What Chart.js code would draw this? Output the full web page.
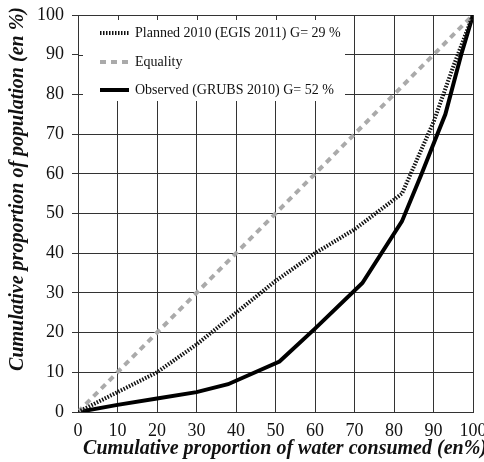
<!DOCTYPE html>
<html>
<head>
<meta charset="utf-8">
<script src="https://cdn.jsdelivr.net/npm/chart.js@4"></script>
<style>
  html, body { margin: 0; padding: 0; background: #fff; }
  #wrap { width: 484px; height: 462px; }
</style>
</head>
<body>
<div id="wrap"><canvas id="lorenz"></canvas></div>
<script>
// values (x = % of water consumed, y = % of population)
var plannedX  = [0, 10, 20, 30, 40, 50, 60, 70, 82, 90, 95, 100];
var plannedY  = [0, 5, 10, 17, 25, 33, 40, 46, 55, 73, 87, 100];
var observedX = [0, 10, 20, 30, 38, 51, 60, 72, 82, 87, 91, 93, 97, 100];
var observedY = [0, 1.8, 3.4, 5, 7, 12.7, 21, 32.5, 48, 60, 70, 75, 90, 100];
var equalityX = [0, 100];
var equalityY = [0, 100];
var tickValues = [0, 10, 20, 30, 40, 50, 60, 70, 80, 90, 100];

var labels = ['Planned 2010 (EGIS 2011) G= 29 %', 'Equality', 'Observed (GRUBS 2010) G= 52 %'];
var xTitle = 'Cumulative proportion of water consumed (en%)';
var yTitle = 'Cumulative proportion of population (en %)';

function toPoints(xs, ys) {
    return xs.map(function (x, i) { return { x: x, y: ys[i] }; });
}

var serif = 'Liberation Serif';

// white legend box drawn inside the plot, over the grid
var legendBox = {
    id: 'legendBox',
    beforeDatasetsDraw: function (chart) {
        var ctx = chart.ctx;
        var a = chart.chartArea;
        var xs = chart.scales.x, ys = chart.scales.y;
        var right = 345, bottom = 101;
        ctx.save();
        ctx.fillStyle = '#fff';
        ctx.fillRect(a.left + 1, a.top + 1, right - a.left - 1, bottom - a.top - 1);

        // little inner ticks left visible on the frame
        ctx.strokeStyle = '#333';
        ctx.lineWidth = 1;
        ctx.beginPath();
        tickValues.forEach(function (v) {
            var px = Math.round(xs.getPixelForValue(v)) + 0.5;
            if (v > 0 && px < right) {
                ctx.moveTo(px, a.top);
                ctx.lineTo(px, a.top + 5);
            }
            var py = Math.round(ys.getPixelForValue(v)) + 0.5;
            if (v < 100 && py < bottom) {
                ctx.moveTo(a.left, py);
                ctx.lineTo(a.left + 5, py);
            }
        });
        ctx.stroke();

        // legend entries
        var rows = [33, 62, 90];
        chart.data.datasets.forEach(function (ds, i) {
            ctx.beginPath();
            ctx.strokeStyle = ds.borderColor;
            ctx.lineWidth = ds.borderWidth;
            ctx.setLineDash(ds.borderDash || []);
            ctx.moveTo(100, rows[i]);
            ctx.lineTo(129, rows[i]);
            ctx.stroke();
            ctx.setLineDash([]);
            ctx.fillStyle = '#111';
            ctx.font = '14px "' + serif + '"';
            ctx.textBaseline = 'middle';
            ctx.fillText(ds.label, 135, rows[i]);
        });
        ctx.restore();
    }
};

// axis titles, placed where the original has them
var axisTitles = {
    id: 'axisTitles',
    afterDraw: function (chart) {
        var ctx = chart.ctx;
        ctx.save();
        ctx.fillStyle = '#111';
        ctx.font = 'italic bold 20px "' + serif + '"';
        ctx.textAlign = 'center';
        ctx.textBaseline = 'middle';
        ctx.fillText(xTitle, 285, 449);
        ctx.translate(18, 189);
        ctx.rotate(-Math.PI / 2);
        ctx.fillText(yTitle, 0, 0);
        ctx.restore();
    }
};

var ctx = document.getElementById('lorenz');
var chart = new Chart(ctx, {
    type: 'scatter',
    data: {
        datasets: [{
            label: labels[0],
            data: toPoints(plannedX, plannedY),
            showLine: true,
            borderColor: '#111',
            borderWidth: 4,
            borderDash: [1.5, 1.5],
            pointRadius: 0,
            tension: 0
        }, {
            label: labels[1],
            data: toPoints(equalityX, equalityY),
            showLine: true,
            borderColor: '#aaa',
            borderWidth: 4,
            borderDash: [6, 5],
            pointRadius: 0
        }, {
            label: labels[2],
            data: toPoints(observedX, observedY),
            showLine: true,
            borderColor: '#000',
            borderWidth: 4,
            pointRadius: 0,
            tension: 0
        }]
    },
    options: {
        responsive: true,
        maintainAspectRatio: false,
        animation: false,
        layout: { padding: { left: 0, right: 11, top: 15, bottom: 0 } },
        plugins: {
            legend: { display: false },
            tooltip: { enabled: false }
        },
        scales: {
            x: {
                type: 'linear',
                min: 0,
                max: 100,
                afterBuildTicks: function (scale) {
                    scale.ticks = tickValues.map(function (v) { return { value: v }; });
                },
                afterFit: function (scale) {
                    scale.height = 50;
                    scale.paddingLeft = 0;
                    scale.paddingRight = 0;
                },
                grid: { color: '#333', lineWidth: 1, drawTicks: false },
                border: { color: '#333' },
                ticks: {
                    color: '#111',
                    padding: 8,
                    maxRotation: 0,
                    font: { family: serif, size: 18 }
                }
            },
            y: {
                type: 'linear',
                min: 0,
                max: 100,
                afterBuildTicks: function (scale) {
                    scale.ticks = tickValues.map(function (v) { return { value: v }; });
                },
                afterFit: function (scale) {
                    scale.width = 78;
                    scale.paddingTop = 0;
                    scale.paddingBottom = 0;
                },
                grid: { color: '#333', lineWidth: 1, tickLength: 6 },
                border: { color: '#333' },
                ticks: {
                    color: '#111',
                    padding: 8,
                    font: { family: serif, size: 18 }
                }
            }
        }
    },
    plugins: [legendBox, axisTitles]
});
</script>
</body>
</html>
